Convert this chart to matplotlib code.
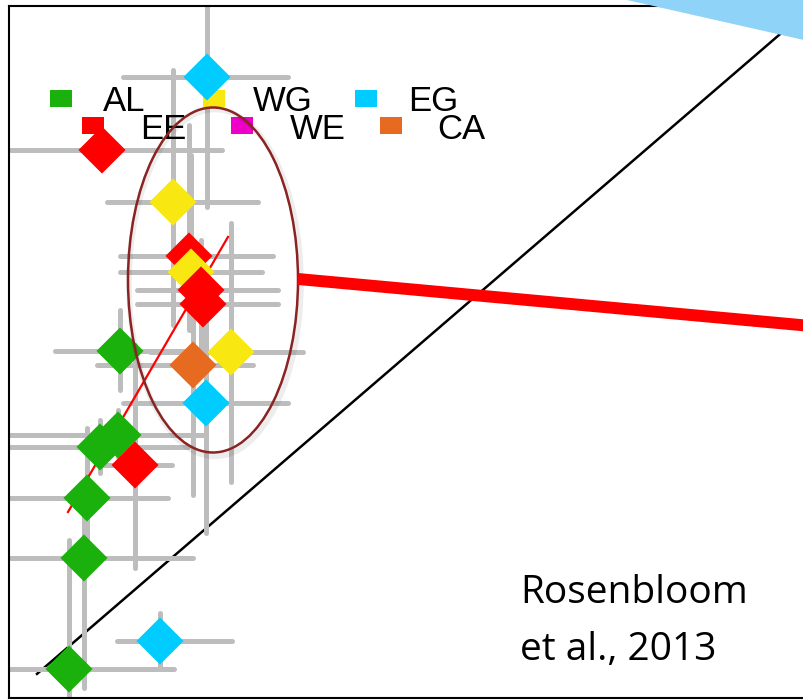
import numpy as np
import matplotlib
matplotlib.use('Agg')
import matplotlib.pyplot as plt
from matplotlib.patches import Ellipse, Rectangle, Polygon

# one point per site, with asymmetric error bars given as low/high bounds
site = ['AL', 'AL', 'AL', 'AL', 'AL', 'AL',
        'EE', 'EE', 'EE', 'EE', 'EE',
        'WG', 'WG', 'WG',
        'EG', 'EG', 'EG',
        'CA']
x = [1.11, 0.91, 1.09, 0.78, 0.75, 0.60,
     0.93, 1.80, 1.92, 1.94, 1.26,
     1.64, 1.82, 2.22,
     1.98, 1.97, 1.51,
     1.84]
y = [3.47, 2.51, 2.63, 2.00, 1.40, 0.29,
     5.48, 4.42, 4.08, 3.94, 2.33,
     4.96, 4.26, 3.46,
     6.21, 2.95, 0.57,
     3.33]
x_lo = [0.46, -0.1, -0.1, -0.1, -0.1, -0.1,
        -0.1, 1.11, 1.28, 1.28, 0.91,
        0.98, 1.11, 1.41,
        1.14, 1.14, 1.08,
        0.88]
x_hi = [1.76, 1.79, 1.96, 1.59, 1.84, 1.65,
        2.13, 2.64, 2.69, 2.69, 1.63,
        2.49, 2.53, 2.94,
        2.79, 2.79, 2.23,
        2.44]
y_lo = [3.08, 2.25, 2.41, 1.38, 0.10, -0.1,
        5.38, 3.68, 3.38, 3.58, 1.30,
        3.73, 3.68, 2.16,
        4.91, 1.65, 0.31,
        2.03]
y_hi = [3.88, 2.78, 2.88, 2.70, 1.98, 1.58,
        5.58, 5.73, 4.58, 4.28, 3.53,
        6.28, 5.43, 4.75,
        7.10, 3.93, 0.85,
        3.98]

site_colors = {'AL': '#1bb10d', 'WG': '#f8e711', 'EG': '#00ccff',
               'EE': '#ff0000', 'WE': '#ee00c8', 'CA': '#e66b21'}
legend_labels = ['AL', 'WG', 'EG', 'EE', 'WE', 'CA']

# fitted trend through the points and the 1:1 reference
fit_slope = 1.719
fit_intercept = 0.846
fit_x = np.array([0.59, 2.19])
ref_x = np.array([0.28, 7.74])
ref_slope = 0.861

W, H = 804, 700
fig = plt.figure(figsize=(W / 100, H / 100), dpi=100)
ax = fig.add_axes([9 / W, 2 / H, 800 / W, 692 / H])
ax.set_xlim(0, 8.0)
ax.set_ylim(0, 6.92)
ax.set_xticks([])
ax.set_yticks([])
for s in ['left', 'top', 'bottom']:
    ax.spines[s].set_linewidth(1.5)
ax.spines['right'].set_visible(False)

x = np.array(x)
y = np.array(y)
xerr = [x - np.array(x_lo), np.array(x_hi) - x]
yerr = [y - np.array(y_lo), np.array(y_hi) - y]
eb = ax.errorbar(x, y, xerr=xerr, yerr=yerr, fmt='none', ecolor='#bdbdbd',
                 elinewidth=3.6, capsize=0, zorder=2)
for lc in eb.lines[2]:
    lc.set_capstyle('round')

ax.plot(ref_x, ref_x * ref_slope, color='black', lw=1.8, zorder=1.5)
ax.plot(fit_x, fit_intercept + fit_slope * fit_x, color='red', lw=1.6, zorder=3)

# draw upper points first so the lower ones sit on top
order = np.argsort(-y)
ax.scatter(x[order], y[order], marker='D', s=24 ** 2, linewidths=0,
           c=[site_colors[site[i]] for i in order], zorder=4)

# legend laid out by hand in two staggered rows
sq_left = [50, 203, 355, 82, 231, 380]
sq_top = [90, 90, 90, 117, 117, 117]
txt_left = [103, 253, 408, 140, 290, 437]
txt_base = [111, 111, 111, 139, 139, 139]
for lab, sl, st, tl, tb in zip(legend_labels, sq_left, sq_top, txt_left, txt_base):
    ax.add_patch(Rectangle((sl / W, 1 - (st + 17) / H), 22 / W, 17 / H,
                           transform=fig.transFigure, color=site_colors[lab],
                           lw=0, clip_on=False, zorder=3.5))
    ax.text(tl / W, 1 - tb / H, lab, transform=fig.transFigure,
            fontsize=25, family='Liberation Sans', va='baseline', zorder=3.6)

# highlighted cluster with a soft shadow
ax.add_patch(Ellipse((2.06, 4.15), 1.72, 3.47, fill=False, ec='black',
                     lw=4, alpha=0.07, zorder=4.9))
ax.add_patch(Ellipse((2.04, 4.18), 1.70, 3.45, fill=False, ec='#8b2323',
                     lw=1.8, zorder=5))
ax.plot([2.89, 8.1], [4.19, 4.19 - 0.0916 * (8.1 - 2.89)], color='red',
        lw=8.6, solid_capstyle='butt', zorder=6)

ax.add_patch(Polygon([(627 / W, 1.0), (1.0, 1.0), (1.0, 1 - 40 / H)],
                     closed=True, transform=fig.transFigure, color='#8fd3f8',
                     lw=0, clip_on=False, zorder=7))

ax.text(520 / W, 1 - 603 / H, 'Rosenbloom', transform=fig.transFigure,
        fontsize=28, family='Open Sans', va='baseline', zorder=6)
ax.text(520 / W, 1 - 660 / H, 'et al., 2013', transform=fig.transFigure,
        fontsize=28, family='Open Sans', va='baseline', zorder=6)

fig.savefig('out.png', dpi=100)
